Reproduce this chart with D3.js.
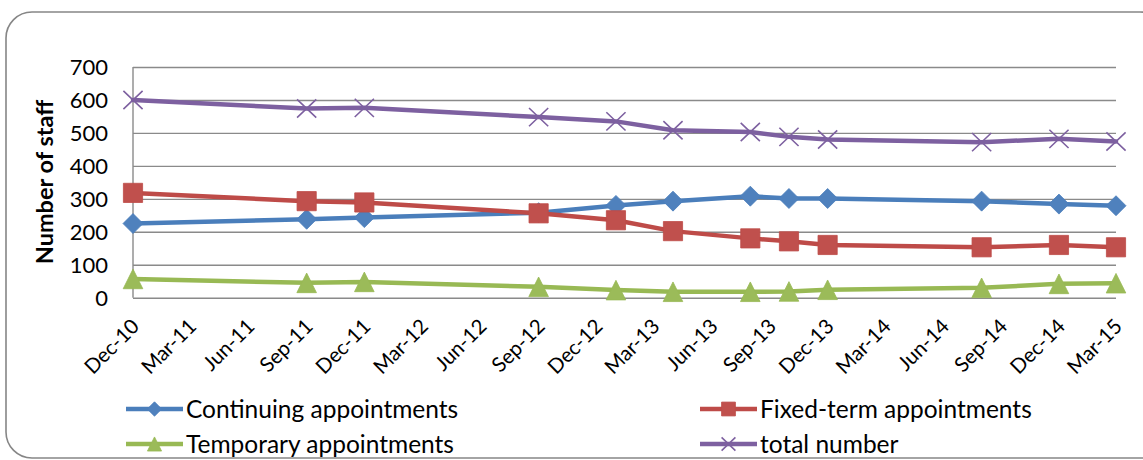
<!DOCTYPE html>
<html>
<head>
<meta charset="utf-8">
<script src="https://cdn.jsdelivr.net/npm/d3@7"></script>
<style>
  body { margin: 0; background: #fff; }
  svg { display: block; font-family: Lato, "Open Sans", sans-serif; }
</style>
</head>
<body>
<svg id="chart" width="1143" height="460"></svg>
<script>
// Staff numbers by appointment type, reporting periods Dec 2010 – Mar 2015
const periods = ["Dec-10", "Sep-11", "Dec-11", "Sep-12", "Jan-13", "Apr-13",
                 "Aug-13", "Oct-13", "Dec-13", "Aug-14", "Dec-14", "Mar-15"];
const continuing  = [225, 238, 243, 258, 280, 293, 308, 301, 301, 293, 284, 279];
const fixedTerm   = [318, 293, 289, 256, 235, 202, 180, 171, 160, 153, 160, 153];
const temporary   = [57, 45, 48, 33, 23, 18, 18, 19, 24, 30, 42, 44];
const totalNumber = [600, 574, 576, 548, 535, 508, 503, 488, 480, 472, 482, 474];

const tickLabels = ["Dec-10", "Mar-11", "Jun-11", "Sep-11", "Dec-11", "Mar-12",
                    "Jun-12", "Sep-12", "Dec-12", "Mar-13", "Jun-13", "Sep-13",
                    "Dec-13", "Mar-14", "Jun-14", "Sep-14", "Dec-14", "Mar-15"];
const yTicks = [0, 100, 200, 300, 400, 500, 600, 700];
const seriesNames = ["Continuing appointments", "Fixed-term appointments",
                     "Temporary appointments", "total number"];
const yTitle = "Number of staff";

const parse = d3.timeParse("%b-%y");
const fmt = d3.timeFormat("%b-%y");

const svg = d3.select("#chart");
const plot = { left: 133, right: 1116, top: 67, bottom: 297.7 };

// Rounded chart frame
svg.append("rect")
  .attr("x", 6).attr("y", 12)
  .attr("width", 1160).attr("height", 446)
  .attr("rx", 26).attr("ry", 26)
  .attr("fill", "#fff")
  .attr("stroke", "#868686")
  .attr("stroke-width", 1.6);

const tickDates = tickLabels.map(parse);
const x = d3.scaleTime()
  .domain([tickDates[0], tickDates[tickDates.length - 1]])
  .range([plot.left, plot.right]);
const y = d3.scaleLinear().domain([0, 700]).range([plot.bottom, plot.top]);

// Horizontal gridlines
svg.append("g")
  .attr("transform", `translate(${plot.left},0)`)
  .call(d3.axisLeft(y).tickValues(yTicks).tickSize(-(plot.right - plot.left)).tickFormat(""))
  .call(g => g.select(".domain").remove())
  .call(g => g.selectAll("line").attr("stroke", "#8a8a8a").attr("stroke-width", 1.4));

// Vertical value axis line
svg.append("line")
  .attr("x1", plot.left).attr("x2", plot.left)
  .attr("y1", y(700)).attr("y2", y(0))
  .attr("stroke", "#8a8a8a").attr("stroke-width", 1.4);

// Y tick labels
svg.append("g")
  .attr("transform", `translate(${plot.left - 25},0)`)
  .call(d3.axisLeft(y).tickValues(yTicks).tickSize(0).tickPadding(0))
  .call(g => g.select(".domain").remove())
  .call(g => g.selectAll("text")
    .attr("font-family", "Lato, sans-serif")
    .attr("font-size", 22)
    .attr("fill", "#000")
    .attr("dy", "0.36em"));

// Y title
svg.append("text")
  .attr("transform", `translate(53,182) rotate(-90)`)
  .attr("text-anchor", "middle")
  .attr("font-weight", "bold")
  .attr("font-size", 23.5)
  .attr("fill", "#000")
  .text(yTitle);

// X tick labels, rotated
svg.append("g")
  .attr("transform", `translate(0,${plot.bottom})`)
  .call(d3.axisBottom(x).tickValues(tickDates).tickFormat(fmt).tickSize(0))
  .call(g => g.select(".domain").remove())
  .call(g => g.selectAll("text")
    .attr("font-family", "Lato, sans-serif")
    .attr("font-size", 20.5)
    .attr("fill", "#000")
    .attr("text-anchor", "end")
    .attr("y", 0).attr("dy", 0)
    .attr("transform", "translate(7,30) rotate(-45)"));

// Marker shapes
const markers = {
  diamond: (r) => `M0,${-r}L${r},0L0,${r}L${-r},0Z`,
  square: (r) => `M${-r},${-r}H${r}V${r}H${-r}Z`,
  triangle: (r) => `M0,${-r}L${r},${r}L${-r},${r}Z`,
  cross: (r) => `M${-r},${-r * 0.95}L${r},${r * 0.95}M${r},${-r * 0.95}L${-r},${r * 0.95}`
};

const series = [
  { name: seriesNames[0], values: continuing,  line: "#4A7EBB", fill: "#4F81BD", shape: "diamond",  size: 10 },
  { name: seriesNames[1], values: fixedTerm,   line: "#BE4B48", fill: "#C0504D", shape: "square",   size: 9.6 },
  { name: seriesNames[2], values: temporary,   line: "#98B954", fill: "#9BBB59", shape: "triangle", size: 9.8 },
  { name: seriesNames[3], values: totalNumber, line: "#7D60A0", fill: "none",    shape: "cross",    size: 9.6 }
];

const dates = periods.map(parse);
const lineGen = d3.line().x(d => x(d.date)).y(d => y(d.value));

series.forEach(s => {
  const pts = dates.map((date, i) => ({ date, value: s.values[i] }));
  const g = svg.append("g");
  g.append("path")
    .attr("d", lineGen(pts))
    .attr("fill", "none")
    .attr("stroke", s.line)
    .attr("stroke-width", 4.5)
    .attr("stroke-linejoin", "round")
    .attr("stroke-linecap", "round");
  g.selectAll(".m").data(pts).join("path")
    .attr("transform", d => `translate(${x(d.date)},${y(d.value)})`)
    .attr("d", markers[s.shape](s.size))
    .attr("fill", s.fill)
    .attr("stroke", s.line)
    .attr("stroke-width", s.shape === "cross" ? 1.6 : 0.8);
});

// Legend (2 columns x 2 rows)
const legendPos = [[126, 409], [700, 409], [126, 444], [700, 444]];
series.forEach((s, i) => {
  const [lx, ly] = legendPos[i];
  const g = svg.append("g").attr("transform", `translate(${lx},${ly})`);
  g.append("line").attr("x1", 0).attr("x2", 57).attr("y1", 0).attr("y2", 0)
    .attr("stroke", s.line).attr("stroke-width", 4.5);
  g.append("path")
    .attr("transform", "translate(28.5,0)")
    .attr("d", markers[s.shape](s.size * 0.72))
    .attr("fill", s.fill)
    .attr("stroke", s.line)
    .attr("stroke-width", s.shape === "cross" ? 1.6 : 0.8);
  g.append("text")
    .attr("x", 60).attr("y", 0).attr("dy", "0.35em")
    .attr("font-size", 24.5)
    .attr("fill", "#000")
    .text(s.name);
});
</script>
</body>
</html>
